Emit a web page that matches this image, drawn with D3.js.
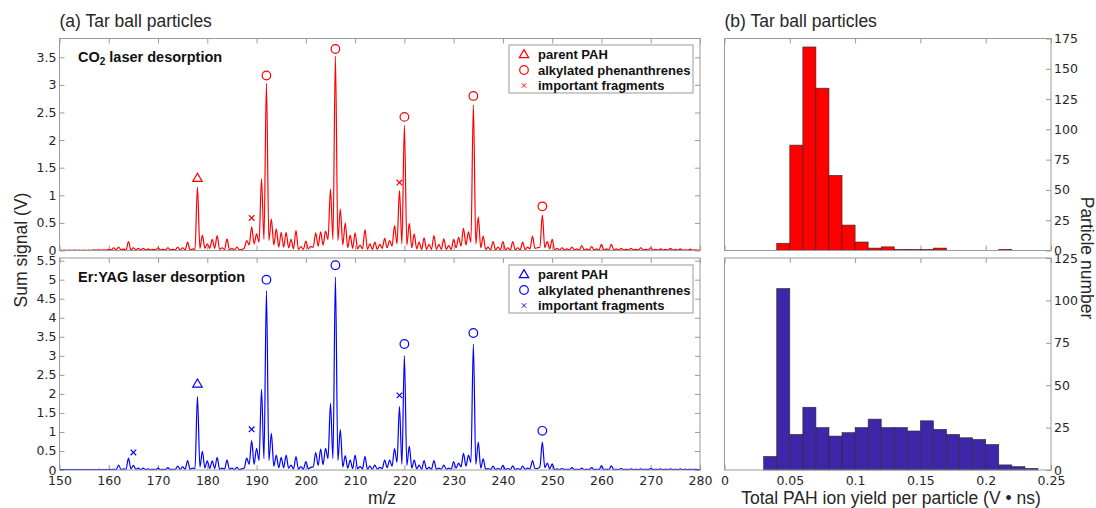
<!DOCTYPE html>
<html>
<head>
<meta charset="utf-8">
<script src="https://cdn.jsdelivr.net/npm/d3@7"></script>
<style>
body { margin:0; background:#fff; }
</style>
</head>
<body>
<div id="the_chart"></div>
<script>
// m/z 150..280, one peak height per integer mass (V)
var mzStart = 150;
var co2Peaks = [
  0.005,0.005,0.005,0.005,0.005,0.005,0.005,0.01,0.01,0.01,
  0.02,0.05,0.06,0.03,0.16,0.05,0.04,0.04,0.03,0.02,
  0.05,0.02,0.05,0.02,0.06,0.05,0.15,0.03,1.15,0.28,
  0.12,0.20,0.27,0.05,0.21,0.04,0.06,0.02,0.18,0.43,
  0.30,1.30,3.03,0.57,0.39,0.33,0.33,0.20,0.36,0.07,
  0.17,0.07,0.32,0.34,0.35,1.11,3.52,0.75,0.50,0.28,
  0.32,0.10,0.38,0.12,0.15,0.11,0.22,0.18,0.45,1.09,
  2.27,0.49,0.30,0.15,0.23,0.11,0.27,0.11,0.21,0.09,
  0.20,0.24,0.40,0.34,2.64,0.61,0.26,0.06,0.16,0.06,
  0.16,0.05,0.16,0.05,0.15,0.06,0.26,0.05,0.64,0.16,
  0.20,0.04,0.05,0.03,0.06,0.03,0.09,0.03,0.07,0.03,
  0.11,0.03,0.11,0.03,0.04,0.02,0.04,0.02,0.05,0.02,
  0.05,0.02,0.03,0.02,0.04,0.02,0.03,0.01,0.025,0.01,
  0.01];
// signal minimum between m and m+1
var co2Valleys = [
  0.003,0.003,0.003,0.003,0.003,0.003,0.003,0.005,0.005,0.005,
  0.01,0.01,0.01,0.01,0.01,0.01,0.01,0.01,0.01,0.01,
  0.01,0.01,0.01,0.01,0.01,0.01,0.01,0.02,0.04,0.04,
  0.04,0.04,0.02,0.02,0.01,0.01,0.01,0.04,0.10,0.12,
  0.15,0.20,0.18,0.10,0.06,0.06,0.05,0.03,0.02,0.02,
  0.03,0.06,0.08,0.10,0.20,0.20,0.18,0.10,0.05,0.04,
  0.03,0.03,0.02,0.02,0.02,0.04,0.05,0.08,0.12,0.12,
  0.10,0.05,0.03,0.02,0.02,0.02,0.02,0.02,0.02,0.02,
  0.05,0.08,0.10,0.15,0.12,0.05,0.02,0.01,0.01,0.01,
  0.01,0.01,0.01,0.01,0.02,0.03,0.04,0.06,0.05,0.03,
  0.01,0.01,0.01,0.01,0.01,0.01,0.01,0.01,0.01,0.01,
  0.01,0.01,0.01,0.01,0.01,0.01,0.01,0.01,0.01,0.01,
  0.005,0.005,0.005,0.005,0.005,0.005,0.005,0.005,0.005,0.005];
var eryagPeaks = [
  0.01,0.01,0.01,0.01,0.01,0.01,0.01,0.01,0.015,0.01,
  0.02,0.02,0.13,0.03,0.31,0.12,0.05,0.05,0.03,0.02,
  0.05,0.02,0.06,0.02,0.10,0.08,0.25,0.05,1.93,0.49,
  0.24,0.24,0.33,0.05,0.26,0.05,0.07,0.03,0.31,0.77,
  0.57,2.12,4.71,0.96,0.39,0.33,0.39,0.13,0.35,0.09,
  0.22,0.07,0.46,0.55,0.57,1.75,5.07,1.06,0.38,0.26,
  0.39,0.09,0.36,0.10,0.13,0.07,0.26,0.26,0.56,1.67,
  3.00,0.63,0.26,0.13,0.25,0.07,0.25,0.05,0.13,0.05,
  0.22,0.18,0.44,0.39,3.31,0.73,0.29,0.04,0.10,0.04,
  0.12,0.04,0.11,0.04,0.10,0.05,0.25,0.04,0.73,0.18,
  0.16,0.03,0.04,0.02,0.06,0.02,0.05,0.02,0.06,0.02,
  0.11,0.02,0.11,0.02,0.04,0.02,0.03,0.02,0.03,0.02,
  0.04,0.02,0.03,0.02,0.03,0.02,0.03,0.02,0.02,0.02,
  0.02];
var eryagValleys = [
  0.008,0.008,0.008,0.008,0.008,0.008,0.008,0.008,0.008,0.008,
  0.01,0.01,0.01,0.02,0.03,0.02,0.01,0.01,0.01,0.01,
  0.01,0.01,0.01,0.02,0.02,0.02,0.02,0.03,0.08,0.05,
  0.04,0.04,0.02,0.02,0.02,0.01,0.01,0.05,0.15,0.15,
  0.25,0.30,0.25,0.10,0.06,0.06,0.05,0.03,0.02,0.02,
  0.03,0.08,0.12,0.14,0.30,0.30,0.25,0.08,0.05,0.04,
  0.03,0.03,0.02,0.02,0.02,0.04,0.06,0.10,0.20,0.15,
  0.12,0.05,0.03,0.02,0.02,0.02,0.02,0.02,0.02,0.02,
  0.05,0.08,0.10,0.20,0.15,0.05,0.02,0.01,0.01,0.01,
  0.01,0.01,0.01,0.01,0.02,0.03,0.04,0.08,0.06,0.03,
  0.01,0.01,0.01,0.01,0.01,0.01,0.01,0.01,0.01,0.01,
  0.01,0.01,0.01,0.01,0.01,0.01,0.01,0.01,0.01,0.01,
  0.01,0.01,0.01,0.01,0.01,0.01,0.01,0.01,0.01,0.01];

// peak markers [m/z, signal]
var co2Parent = [[178, 1.30]];
var co2Alkyl = [[192, 3.17], [206, 3.65], [220, 2.42], [234, 2.80], [248, 0.80]];
var co2Frag = [[189, 0.59], [219, 1.23]];
var eryagParent = [[178, 2.25]];
var eryagAlkyl = [[192, 5.00], [206, 5.38], [220, 3.31], [234, 3.60], [248, 1.03]];
var eryagFrag = [[165, 0.46], [189, 1.07], [219, 1.96]];

var legendNames = ["parent PAH", "alkylated phenanthrenes", "important fragments"];

// histograms, bins of 0.01 V*ns starting at 0
var binWidth = 0.01;
var co2Counts = [0,0,0,0,6,87,168,134,62,21,7,2,3,1,1,1,2,0,0,0,0,1];
var eryagCounts = [0,0,0,8,107,21,37,25,20,22,25,30,25,25,23,29,24,21,19,18,15,3,2,1];

var mzTicks = d3.range(150, 281, 10);
var co2Ticks = [0, 0.5, 1, 1.5, 2, 2.5, 3, 3.5];
var eryagTicks = [0, 0.5, 1, 1.5, 2, 2.5, 3, 3.5, 4, 4.5, 5, 5.5];
var yieldTicks = [0, 0.05, 0.1, 0.15, 0.2, 0.25];
var co2CountTicks = [0, 25, 50, 75, 100, 125, 150, 175];
var eryagCountTicks = [0, 25, 50, 75, 100, 125];

var w = 1096, h = 508;
var axisColor = "#9a9a9a";
var textColor = "#262626";
var tickFont = "'DejaVu Sans', sans-serif";
var labelFont = "'Liberation Sans', Arial, sans-serif";

var svg = d3.select("#the_chart").append("svg")
    .attr("width", w)
    .attr("height", h)
    .style("display", "block");

var specX = d3.scaleLinear().domain([150, 280]).range([59.5, 700]);
var histX = d3.scaleLinear().domain([0, 0.25]).range([724.5, 1051]);
var topRange = [250.5, 38.5];
var botRange = [470, 258];

function styleAxis(g) {
    g.select(".domain").remove();
    g.selectAll(".tick line").attr("stroke", axisColor);
    g.selectAll(".tick text")
        .attr("fill", textColor)
        .style("font-family", tickFont)
        .style("font-size", "12.5px");
}

function frame(x, y) {
    svg.append("rect")
        .attr("x", x.range()[0])
        .attr("y", y.range()[1])
        .attr("width", x.range()[1] - x.range()[0])
        .attr("height", y.range()[0] - y.range()[1])
        .attr("fill", "none")
        .attr("stroke", axisColor)
        .attr("stroke-width", 1);
}

function spectrumPanel(opt) {
    var y = d3.scaleLinear().domain([0, opt.ymax]).range(opt.range);
    var x0 = specX.range()[0], x1 = specX.range()[1];

    svg.append("g").attr("transform", "translate(" + x0 + ",0)")
        .call(d3.axisLeft(y).tickValues(opt.ticks).tickSize(-5).tickPadding(3)
              .tickFormat(function (d) { return d; }))
        .call(styleAxis);
    svg.append("g").attr("transform", "translate(" + x1 + ",0)")
        .call(d3.axisRight(y).tickValues(opt.ticks).tickSize(-5).tickFormat(""))
        .call(styleAxis);
    svg.append("g").attr("transform", "translate(0," + opt.range[1] + ")")
        .call(d3.axisTop(specX).tickValues(mzTicks).tickSize(-5).tickFormat(""))
        .call(styleAxis);
    svg.append("g").attr("transform", "translate(0," + opt.range[0] + ")")
        .call(d3.axisBottom(specX).tickValues(mzTicks).tickSize(-5).tickPadding(6)
              .tickFormat(opt.showX ? function (d) { return d; } : ""))
        .call(styleAxis);

    var pts = [];
    opt.peaks.forEach(function (v, i) {
        pts.push([mzStart + i, v]);
        if (i < opt.valleys.length) pts.push([mzStart + i + 0.5, opt.valleys[i]]);
    });

    var clipId = "clip" + opt.id;
    svg.append("clipPath").attr("id", clipId)
        .append("rect")
        .attr("x", x0).attr("y", opt.range[1])
        .attr("width", x1 - x0).attr("height", opt.range[0] - opt.range[1]);

    var line = d3.line()
        .x(function (d) { return specX(d[0]); })
        .y(function (d) { return y(d[1]); })
        .curve(d3.curveMonotoneX);

    svg.append("path")
        .datum(pts)
        .attr("clip-path", "url(#" + clipId + ")")
        .attr("d", line)
        .attr("fill", "none")
        .attr("stroke", opt.color)
        .attr("stroke-width", 1.2)
        .attr("stroke-linejoin", "round");

    var tri = d3.symbol().type(d3.symbolTriangle).size(38);
    var cross = "M-2.8,-2.8L2.8,2.8M2.8,-2.8L-2.8,2.8";

    svg.selectAll(".tri" + opt.id).data(opt.parent).enter().append("path")
        .attr("transform", function (d) { return "translate(" + specX(d[0]) + "," + y(d[1]) + ")"; })
        .attr("d", tri).attr("fill", "none").attr("stroke", opt.color).attr("stroke-width", 1.2);
    svg.selectAll(".circ" + opt.id).data(opt.alkyl).enter().append("circle")
        .attr("cx", function (d) { return specX(d[0]); })
        .attr("cy", function (d) { return y(d[1]); })
        .attr("r", 4.3).attr("fill", "none").attr("stroke", opt.color).attr("stroke-width", 1.2);
    svg.selectAll(".frag" + opt.id).data(opt.frag).enter().append("path")
        .attr("transform", function (d) { return "translate(" + specX(d[0]) + "," + y(d[1]) + ")"; })
        .attr("d", cross).attr("fill", "none").attr("stroke", opt.color).attr("stroke-width", 1.2);

    frame(specX, y);

    // panel label
    var lab = svg.append("text")
        .attr("x", 78).attr("y", opt.range[1] + opt.labelDy)
        .attr("fill", "#111")
        .style("font-family", labelFont)
        .style("font-size", "14.5px")
        .style("font-weight", "bold");
    opt.label.forEach(function (part) {
        var t = lab.append("tspan").text(part.t);
        if (part.sub) t.attr("dy", 3).style("font-size", "10px");
        if (part.after) t.attr("dy", -3);
    });

    // legend
    var lg = svg.append("g").attr("transform", "translate(509," + (opt.range[1] + opt.legendDy) + ")");
    lg.append("rect").attr("width", 184).attr("height", 48)
        .attr("fill", "#fff").attr("stroke", axisColor);
    var rows = lg.selectAll("g").data(legendNames).enter().append("g")
        .attr("transform", function (d, i) { return "translate(15," + (9.5 + i * 15.5) + ")"; });
    rows.each(function (d, i) {
        var r = d3.select(this);
        if (i === 0) r.append("path").attr("d", tri).attr("transform", "translate(0,0.5)");
        if (i === 1) r.append("circle").attr("r", 4.3);
        if (i === 2) r.append("path").attr("d", cross).attr("transform", "scale(0.8)");
        r.select("*").attr("fill", "none").attr("stroke", opt.color).attr("stroke-width", 1.2);
    });
    rows.append("text")
        .attr("x", 14).attr("dy", "0.35em")
        .attr("fill", "#111")
        .style("font-family", labelFont)
        .style("font-size", "13px")
        .style("font-weight", "bold")
        .text(function (d) { return d; });
}

function histPanel(opt) {
    var y = d3.scaleLinear().domain([0, opt.ymax]).range(opt.range);
    var x0 = histX.range()[0], x1 = histX.range()[1];

    svg.append("g").attr("transform", "translate(" + x1 + ",0)")
        .call(d3.axisRight(y).tickValues(opt.ticks).tickSize(-5).tickPadding(3))
        .call(styleAxis);
    svg.append("g").attr("transform", "translate(0," + opt.range[1] + ")")
        .call(d3.axisTop(histX).tickValues(yieldTicks).tickSize(-5).tickFormat(""))
        .call(styleAxis);
    svg.append("g").attr("transform", "translate(0," + opt.range[0] + ")")
        .call(d3.axisBottom(histX).tickValues(yieldTicks).tickSize(-5).tickPadding(6)
              .tickFormat(opt.showX ? function (d) { return d; } : ""))
        .call(styleAxis);

    svg.selectAll(".bar" + opt.id)
        .data(opt.counts.map(function (c, i) { return { i: i, c: c }; })
                        .filter(function (d) { return d.c > 0; }))
        .enter().append("rect")
        .attr("x", function (d) { return histX(d.i * binWidth); })
        .attr("width", histX(binWidth) - histX(0))
        .attr("y", function (d) { return y(d.c); })
        .attr("height", function (d) { return opt.range[0] - y(d.c); })
        .attr("fill", opt.color)
        .attr("stroke", "#2a2a2a")
        .attr("stroke-width", 0.6);

    frame(histX, y);
}

spectrumPanel({
    id: "a1", peaks: co2Peaks, valleys: co2Valleys, ymax: 3.84, range: topRange,
    ticks: co2Ticks, color: "#ff0000", parent: co2Parent, alkyl: co2Alkyl, frag: co2Frag,
    label: [{ t: "CO" }, { t: "2", sub: true }, { t: " laser desorption", after: true }],
    labelDy: 23.5, legendDy: 6.5, showX: false
});
spectrumPanel({
    id: "a2", peaks: eryagPeaks, valleys: eryagValleys, ymax: 5.57, range: botRange,
    ticks: eryagTicks, color: "#0000ff", parent: eryagParent, alkyl: eryagAlkyl, frag: eryagFrag,
    label: [{ t: "Er:YAG laser desorption" }],
    labelDy: 23.5, legendDy: 7, showX: true
});
histPanel({ id: "b1", counts: co2Counts, ymax: 175, range: topRange, ticks: co2CountTicks,
            color: "#ff0000", showX: false });
histPanel({ id: "b2", counts: eryagCounts, ymax: 125, range: botRange, ticks: eryagCountTicks,
            color: "#3d26a8", showX: true });

function label(text, x, y, rot) {
    svg.append("text")
        .attr("transform", "translate(" + x + "," + y + ")" + (rot ? " rotate(" + rot + ")" : ""))
        .attr("text-anchor", rot ? "middle" : "start")
        .attr("fill", textColor)
        .style("font-family", labelFont)
        .style("font-size", "17.5px")
        .text(text);
}
label("(a) Tar ball particles", 59.5, 27);
label("(b) Tar ball particles", 724.5, 27);
label("Sum signal (V)", 27, 250, -90);
label("Particle number", 1081, 258, 90);

svg.append("text")
    .attr("x", 382).attr("y", 504).attr("text-anchor", "middle")
    .attr("fill", textColor).style("font-family", labelFont).style("font-size", "17.5px")
    .text("m/z");
svg.append("text")
    .attr("x", 891).attr("y", 504).attr("text-anchor", "middle")
    .attr("fill", textColor).style("font-family", labelFont).style("font-size", "17.5px")
    .text("Total PAH ion yield per particle (V \u2022 ns)");
</script>
</body>
</html>
